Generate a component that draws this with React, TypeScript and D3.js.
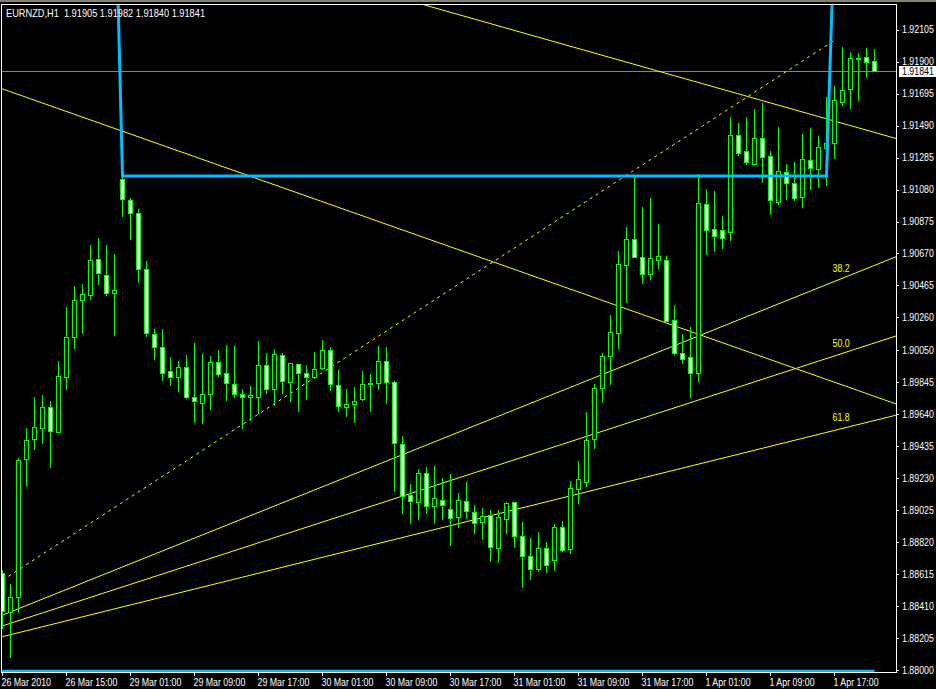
import { useEffect, useRef } from "react"
import * as d3 from "d3"

// H1 candles, [open, high, low, close]
const ohlc: [number, number, number, number][] = [
  [1.88622, 1.88641, 1.88269, 1.88378],
  [1.88372, 1.88551, 1.88083, 1.88468],
  [1.88468, 1.89359, 1.88372, 1.89346],
  [1.89353, 1.89551, 1.89179, 1.89474],
  [1.89481, 1.8975, 1.89417, 1.89558],
  [1.89551, 1.89763, 1.89455, 1.89686],
  [1.89686, 1.89724, 1.89301, 1.89532],
  [1.89526, 1.89981, 1.89526, 1.89885],
  [1.89878, 1.90327, 1.89801, 1.90135],
  [1.90135, 1.90461, 1.90064, 1.90372],
  [1.90372, 1.90474, 1.9016, 1.9041],
  [1.90404, 1.90724, 1.90378, 1.90628],
  [1.90635, 1.90769, 1.90474, 1.90545],
  [1.90532, 1.90724, 1.90404, 1.90417],
  [1.90417, 1.90667, 1.90147, 1.90436],
  [1.91147, 1.9116, 1.9091, 1.91019],
  [1.91013, 1.91026, 1.90763, 1.90929],
  [1.90929, 1.90955, 1.90487, 1.9057],
  [1.9057, 1.90622, 1.90141, 1.9016],
  [1.90154, 1.90186, 1.89994, 1.9007],
  [1.9007, 1.90186, 1.89859, 1.89904],
  [1.89917, 1.90006, 1.89827, 1.89878],
  [1.89878, 1.89981, 1.89788, 1.89942],
  [1.89942, 1.90019, 1.89744, 1.8975],
  [1.8975, 1.90096, 1.8959, 1.89724],
  [1.89711, 1.90026, 1.89583, 1.89769],
  [1.89769, 1.90013, 1.89673, 1.89974],
  [1.89974, 1.90051, 1.89885, 1.89897],
  [1.89904, 1.90083, 1.89731, 1.8984],
  [1.89833, 1.90077, 1.8975, 1.89769],
  [1.89769, 1.89801, 1.89551, 1.8975],
  [1.8975, 1.8982, 1.89603, 1.89763],
  [1.8975, 1.90109, 1.89647, 1.89955],
  [1.89955, 1.90032, 1.89776, 1.89801],
  [1.89801, 1.90058, 1.89699, 1.90026],
  [1.90019, 1.90032, 1.89776, 1.89852],
  [1.89846, 1.89968, 1.89724, 1.89968],
  [1.89961, 1.89961, 1.8966, 1.89904],
  [1.89904, 1.89955, 1.89737, 1.89878],
  [1.89878, 1.90038, 1.89872, 1.89929],
  [1.89936, 1.90115, 1.89929, 1.90051],
  [1.90051, 1.9007, 1.89795, 1.89833],
  [1.89827, 1.89923, 1.8966, 1.89692],
  [1.89686, 1.89801, 1.89628, 1.89705],
  [1.89705, 1.89814, 1.8959, 1.89724],
  [1.89737, 1.89917, 1.89731, 1.89833],
  [1.89833, 1.89897, 1.8966, 1.8984],
  [1.8984, 1.90077, 1.89801, 1.89981],
  [1.89981, 1.9007, 1.89711, 1.89846],
  [1.89846, 1.89852, 1.89147, 1.89455],
  [1.89449, 1.895, 1.89006, 1.89115],
  [1.89122, 1.89192, 1.88942, 1.89083],
  [1.89077, 1.89288, 1.88968, 1.89263],
  [1.89263, 1.89301, 1.89006, 1.89051],
  [1.89051, 1.89308, 1.88942, 1.89103],
  [1.8909, 1.89231, 1.88968, 1.89058],
  [1.89032, 1.89256, 1.88801, 1.88974],
  [1.88981, 1.89135, 1.88917, 1.8909],
  [1.89083, 1.89205, 1.88974, 1.89019],
  [1.89013, 1.89058, 1.88878, 1.88942],
  [1.88949, 1.89038, 1.8884, 1.88987],
  [1.88994, 1.89026, 1.88699, 1.88788],
  [1.88782, 1.89026, 1.88692, 1.88981],
  [1.88968, 1.89077, 1.88878, 1.8907],
  [1.89077, 1.89077, 1.88788, 1.88859],
  [1.88859, 1.88949, 1.88532, 1.88731],
  [1.88731, 1.88846, 1.88583, 1.88647],
  [1.88647, 1.88885, 1.88635, 1.88782],
  [1.88782, 1.8882, 1.88628, 1.88673],
  [1.88705, 1.88936, 1.88641, 1.88917],
  [1.88917, 1.88955, 1.88763, 1.88769],
  [1.88776, 1.89211, 1.8875, 1.89167],
  [1.8916, 1.8934, 1.8907, 1.89224],
  [1.89205, 1.89654, 1.89179, 1.89474],
  [1.89481, 1.89833, 1.89423, 1.89808],
  [1.89808, 1.90032, 1.89718, 1.90013],
  [1.90013, 1.90276, 1.89833, 1.90167],
  [1.9016, 1.90686, 1.90064, 1.90602],
  [1.90596, 1.9084, 1.90359, 1.90763],
  [1.90763, 1.9116, 1.90647, 1.90647],
  [1.90647, 1.90968, 1.90481, 1.90538],
  [1.90538, 1.91026, 1.90506, 1.90641],
  [1.90628, 1.90859, 1.90577, 1.90654],
  [1.90628, 1.90654, 1.90237, 1.90237],
  [1.90244, 1.9034, 1.90026, 1.90032],
  [1.90032, 1.90154, 1.89968, 1.89994],
  [1.90006, 1.90199, 1.8975, 1.89904],
  [1.89904, 1.91179, 1.89852, 1.90993],
  [1.90987, 1.91083, 1.90667, 1.9082],
  [1.90827, 1.9107, 1.90686, 1.90782],
  [1.9082, 1.9091, 1.90705, 1.90769],
  [1.90808, 1.91545, 1.90756, 1.91429],
  [1.91429, 1.91506, 1.91301, 1.91314],
  [1.91327, 1.91545, 1.91243, 1.91256],
  [1.91243, 1.91596, 1.91237, 1.9141],
  [1.9141, 1.91634, 1.91128, 1.91288],
  [1.91295, 1.91327, 1.90923, 1.91013],
  [1.91, 1.91481, 1.90987, 1.91199],
  [1.91192, 1.91243, 1.91019, 1.91122],
  [1.91122, 1.91256, 1.91013, 1.91026],
  [1.91032, 1.91436, 1.90968, 1.91276],
  [1.91269, 1.91474, 1.91083, 1.91218],
  [1.91211, 1.91423, 1.91096, 1.91352],
  [1.91346, 1.91673, 1.91109, 1.91378],
  [1.91378, 1.91743, 1.91282, 1.91654],
  [1.91641, 1.91993, 1.91622, 1.91718],
  [1.91724, 1.91961, 1.91602, 1.91923],
  [1.91917, 1.91955, 1.91654, 1.91922],
  [1.91929, 1.91987, 1.91801, 1.91897],
  [1.91905, 1.91982, 1.9184, 1.91841],
]

const symbol = "EURNZD,H1"

const dateTickBars = [0, 8, 16, 24, 32, 40, 48, 56, 64, 72, 80, 88, 96, 104]
const dateTickLabels = [
  "26 Mar 2010",
  "26 Mar 15:00",
  "29 Mar 01:00",
  "29 Mar 09:00",
  "29 Mar 17:00",
  "30 Mar 01:00",
  "30 Mar 09:00",
  "30 Mar 17:00",
  "31 Mar 01:00",
  "31 Mar 09:00",
  "31 Mar 17:00",
  "1 Apr 01:00",
  "1 Apr 09:00",
  "1 Apr 17:00",
]

const priceTicks = [
  1.92105, 1.919, 1.91695, 1.9149, 1.91285, 1.9108, 1.90875, 1.9067, 1.90465, 1.9026, 1.9005,
  1.89845, 1.8964, 1.89435, 1.8923, 1.89025, 1.8882, 1.88615, 1.8841, 1.88205, 1.88,
]

// indicator drawn in thick blue: a flat level per block of bars
const levelBlocks = [
  { from: 0, to: 14, price: 1.93198 },
  { from: 15, to: 103, price: 1.91167 },
  { from: 104, to: 109, price: 1.92763 },
]
const floorLevel = 1.87994

// fibonacci fan
const fanStart = { bar: -17.6, price: 1.8799 }
const fanEnd = { bar: 104, price: 1.92037 }
const fanLevels = [38.2, 50.0, 61.8]

// hand drawn trend lines (two anchor points each)
const trendLines = [
  [
    { bar: 0, price: 1.91725 },
    { bar: 100, price: 1.89917 },
  ],
  [
    { bar: 60, price: 1.92158 },
    { bar: 100, price: 1.91577 },
  ],
]

const COLORS = {
  bg: "#000000",
  candle: "#00ff00",
  bull: "#000000",
  bear: "#ffffff",
  level: "#00bfff",
  fib: "#ffff00",
  bid: "#778899",
  text: "#ffffff",
}

const FONT = "'Liberation Sans', Arial, sans-serif"
const FONT_SIZE = 10.5
const TEXT_SQUEEZE = 0.84 // terminal font is narrower than Liberation Sans

export default function App() {
  const svgRef = useRef<SVGSVGElement>(null)

  useEffect(() => {
    document.body.style.margin = "0"
    document.body.style.background = "#000"
    if (!svgRef.current) return

    const width = 936
    const height = 689
    const plot = { left: 2, right: 896, top: 5, bottom: 672 }

    const svg = d3.select(svgRef.current)
    svg.selectAll("*").remove()
    svg.attr("width", width).attr("height", height)

    // narrow text helper
    const label = (
      parent: d3.Selection<any, unknown, null, undefined>,
      tx: number,
      ty: number,
      str: string,
      color: string,
      squeeze = TEXT_SQUEEZE
    ) =>
      parent
        .append("text")
        .attr("transform", `translate(${tx},${ty}) scale(${squeeze},1)`)
        .attr("fill", color)
        .attr("font-family", FONT)
        .attr("font-size", FONT_SIZE)
        .attr("xml:space", "preserve")
        .text(str)

    svg.append("rect").attr("width", width).attr("height", height).attr("fill", COLORS.bg)
    svg.append("rect").attr("width", width).attr("height", 2).attr("fill", "#84836f")

    const x = d3.scaleLinear().domain([0, 109]).range([2.5, 874.5])
    const y = d3.scaleLinear().domain([1.88, 1.92263]).range([670, 5])

    const defs = svg.append("defs")
    defs
      .append("clipPath")
      .attr("id", "plot-clip")
      .append("rect")
      .attr("x", plot.left)
      .attr("y", plot.top)
      .attr("width", plot.right - plot.left)
      .attr("height", plot.bottom - plot.top)

    const g = svg.append("g").attr("clip-path", "url(#plot-clip)")

    // bid line
    const last = ohlc[ohlc.length - 1]
    g.append("line")
      .attr("x1", plot.left)
      .attr("x2", plot.right)
      .attr("y1", Math.round(y(last[3])) + 0.5)
      .attr("y2", Math.round(y(last[3])) + 0.5)
      .attr("stroke", COLORS.bid)
      .attr("shape-rendering", "crispEdges")

    // trend lines, extended as rays both ways
    trendLines.forEach(([a, b]) => {
      const slope = (y(b.price) - y(a.price)) / (x(b.bar) - x(a.bar))
      const x0 = -50
      const x1 = 1000
      g.append("line")
        .attr("x1", x0)
        .attr("y1", y(a.price) + (x0 - x(a.bar)) * slope)
        .attr("x2", x1)
        .attr("y2", y(a.price) + (x1 - x(a.bar)) * slope)
        .attr("stroke", COLORS.fib)
        .attr("stroke-width", 1)
    })

    // fibonacci fan
    const p1 = { x: x(fanStart.bar), y: y(fanStart.price) }
    const p2 = { x: x(fanEnd.bar), y: y(fanEnd.price) }
    g.append("line")
      .attr("x1", p1.x)
      .attr("y1", p1.y)
      .attr("x2", p2.x)
      .attr("y2", p2.y)
      .attr("stroke", COLORS.fib)
      .attr("stroke-dasharray", "3,4")

    fanLevels.forEach((lvl) => {
      const price = fanEnd.price - (lvl / 100) * (fanEnd.price - fanStart.price)
      const yy = y(price)
      const slope = (yy - p1.y) / (p2.x - p1.x)
      const xEnd = 1000
      g.append("line")
        .attr("x1", p1.x)
        .attr("y1", p1.y)
        .attr("x2", xEnd)
        .attr("y2", p1.y + (xEnd - p1.x) * slope)
        .attr("stroke", COLORS.fib)
      label(g, p2.x - 2, yy - 9, lvl.toFixed(1), COLORS.fib)
    })

    // candles
    const candles = g.append("g").attr("shape-rendering", "crispEdges")
    ohlc.forEach(([o, h, l, c], i) => {
      const cx = x(i)
      candles
        .append("line")
        .attr("x1", cx)
        .attr("x2", cx)
        .attr("y1", Math.round(y(h)))
        .attr("y2", Math.round(y(l)) + 1)
        .attr("stroke", COLORS.candle)
      const top = Math.round(y(Math.max(o, c))) + 0.5
      const bottom = Math.round(y(Math.min(o, c))) + 0.5
      candles
        .append("rect")
        .attr("x", cx - 2)
        .attr("y", top)
        .attr("width", 4)
        .attr("height", Math.max(0, bottom - top))
        .attr("fill", c >= o ? COLORS.bull : COLORS.bear)
        .attr("stroke", COLORS.candle)
    })

    // blue level indicator
    const levelPoints: [number, number][] = []
    levelBlocks.forEach((b) => {
      for (let i = b.from; i <= b.to; i++) levelPoints.push([x(i), y(b.price)])
    })
    g.append("path")
      .attr("d", d3.line()(levelPoints))
      .attr("fill", "none")
      .attr("stroke", COLORS.level)
      .attr("stroke-width", 3)

    g.append("line")
      .attr("x1", 0)
      .attr("x2", x(ohlc.length - 1))
      .attr("y1", y(floorLevel))
      .attr("y2", y(floorLevel))
      .attr("stroke", COLORS.level)
      .attr("stroke-width", 2.5)

    // frame
    svg
      .append("rect")
      .attr("x", 1.5)
      .attr("y", 4.5)
      .attr("width", plot.right - 1)
      .attr("height", plot.bottom - 4)
      .attr("fill", "none")
      .attr("stroke", "#ffffff")
      .attr("shape-rendering", "crispEdges")

    // price axis
    const axis = svg.append("g").attr("shape-rendering", "crispEdges")
    priceTicks.forEach((p) => {
      const yy = Math.round(y(p)) + 0.5
      axis
        .append("line")
        .attr("x1", plot.right + 1)
        .attr("x2", plot.right + 3)
        .attr("y1", yy)
        .attr("y2", yy)
        .attr("stroke", COLORS.text)
    })
    const priceLabels = svg.append("g")
    priceTicks.forEach((p) => {
      label(priceLabels, 902, y(p) + 3.5, p.toFixed(5), COLORS.text)
    })

    // current price box
    const bidY = Math.round(y(last[3]))
    svg
      .append("rect")
      .attr("x", 899)
      .attr("y", bidY - 5)
      .attr("width", 37)
      .attr("height", 11)
      .attr("fill", "#ffffff")
    label(svg, 902, bidY + 4, last[3].toFixed(5), "#000000")

    // time axis
    dateTickBars.forEach((b, k) => {
      const xx = Math.round(x(b) - 0.5) + 0.5
      axis
        .append("line")
        .attr("x1", xx)
        .attr("x2", xx)
        .attr("y1", plot.bottom)
        .attr("y2", plot.bottom + 4)
        .attr("stroke", COLORS.text)
      label(svg, xx - 1, 686, dateTickLabels[k], COLORS.text)
    })

    // title
    label(svg, 6, 16.5, `${symbol}  ${last.map((v) => v.toFixed(5)).join(" ")}`, COLORS.text, 0.88)
  }, [])

  return <svg ref={svgRef} width={936} height={689} style={{ display: "block" }} />
}
